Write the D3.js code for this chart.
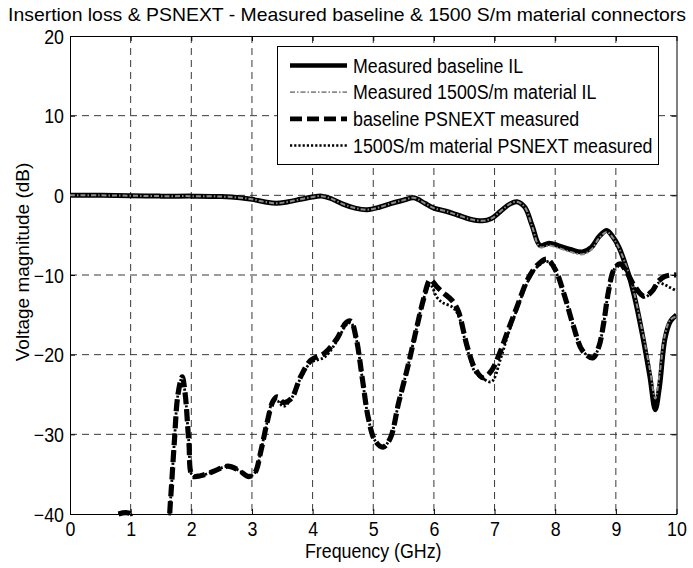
<!DOCTYPE html>
<meta charset="utf-8" />
<script src="https://d3js.org/d3.v7.min.js"></script>
<body style="margin:0;background:#fff">
<svg id="chart" width="693" height="568"></svg>
<script>
/* ── DATA ── */
const titleText = "Insertion loss & PSNEXT - Measured baseline & 1500 S/m material connectors";
const xTicks = [0,1,2,3,4,5,6,7,8,9,10];
const yTicks = [20,10,0,-10,-20,-30,-40];
const seriesNames = ["Measured baseline IL","Measured 1500S/m material IL",
                     "baseline PSNEXT measured","1500S/m material PSNEXT measured"];

const freqIL = [0,0.5,1,1.5,2,2.5,2.8,3.0,3.2,3.4,3.6,3.8,4.0,4.15,4.3,4.5,4.7,4.9,5.1,5.3,5.5,5.67,5.85,6.0,6.2,6.4,6.6,6.8,6.95,7.1,7.25,7.37,7.5,7.62,7.75,7.9,8.05,8.25,8.45,8.6,8.72,8.85,8.95,9.05,9.2,9.3,9.43,9.56,9.65,9.72,9.81,9.9,10];
const ilBaseline = [0,0,-0.05,-0.1,-0.1,-0.15,-0.3,-0.5,-0.8,-1.0,-0.8,-0.5,-0.2,-0.1,-0.4,-1.1,-1.6,-1.8,-1.5,-1.0,-0.6,-0.3,-1.0,-1.6,-2.0,-2.5,-3.0,-3.2,-2.9,-2.0,-1.1,-0.8,-1.5,-3.8,-6.3,-6.0,-6.3,-6.8,-7.1,-6.5,-5.2,-4.4,-5.2,-6.5,-9.7,-12.5,-17.2,-22.7,-26.9,-24,-18,-15.8,-15];
const il1500 = [0,0,-0.05,-0.1,-0.1,-0.15,-0.3,-0.5,-0.8,-1.0,-0.8,-0.5,-0.2,-0.1,-0.4,-1.1,-1.6,-1.8,-1.5,-1.0,-0.6,-0.3,-1.0,-1.6,-2.0,-2.5,-3.0,-3.2,-2.9,-2.0,-1.1,-0.8,-1.5,-3.9,-6.5,-6.3,-6.6,-7.1,-7.4,-6.8,-5.4,-4.6,-5.3,-6.6,-9.5,-12.2,-16.8,-21.8,-25.5,-22.5,-17.5,-15.6,-15.2];

const freqNext = [0.8,1.0,1.08,1.5,1.6,1.66,1.72,1.78,1.85,1.9,1.96,2.02,2.15,2.35,2.6,2.78,2.95,3.05,3.15,3.25,3.35,3.42,3.52,3.65,3.8,3.97,4.2,4.4,4.55,4.63,4.72,4.82,4.92,5.03,5.16,5.28,5.42,5.57,5.72,5.83,5.94,6.05,6.15,6.3,6.4,6.55,6.68,6.81,6.95,7.1,7.22,7.36,7.55,7.7,7.86,8.0,8.15,8.3,8.45,8.62,8.72,8.8,8.88,8.97,9.07,9.17,9.3,9.47,9.6,9.7,9.8,9.9,10];
const nextBaseline = [-40,-40,-48,-48,-44,-38,-31,-25,-22.8,-25,-31,-35.2,-35.2,-34.7,-34,-34.5,-35.3,-34.8,-32,-28.5,-25.8,-25.3,-26,-25.5,-22.8,-20.7,-19.8,-18,-16,-15.8,-18,-23,-28,-30.8,-31.6,-30.5,-26,-21.5,-16.5,-13,-10.6,-11.5,-12.2,-13.2,-14.5,-19,-21.8,-22.9,-22,-19.5,-17,-14.2,-10.5,-8.8,-8.0,-9.3,-12.5,-16.4,-19.5,-20.4,-19,-16,-12,-9.3,-8.6,-9.5,-11.3,-12.7,-12,-10.8,-10.2,-10,-10];
const next1500 = [-40,-40,-48,-48,-44,-38,-31,-25,-22.8,-25,-31,-35.2,-35.2,-34.7,-34,-34.5,-35.3,-34.8,-32,-28.5,-25.8,-25.8,-26.5,-25.5,-23,-21,-20.3,-18.3,-16.3,-16,-18,-23,-28,-30.8,-31.6,-30.5,-26,-21.5,-16.5,-13,-11.2,-12.8,-13.5,-14,-15,-19.3,-22.2,-23,-23.4,-20.5,-17.5,-14.5,-10.8,-9,-8.3,-9.5,-12.5,-16.4,-19.5,-20.4,-19,-16,-12,-9.3,-8.6,-9.5,-11.5,-12.8,-12,-11,-11.2,-11.6,-12];

/* ── LAYOUT ── */
const W = 693, H = 568;
const m = {left:70, right:W-676.5, top:36, bottom:H-514};
const font = "'Liberation Sans', Arial, sans-serif";
const squeezeX = 0.89;   // scanned text looks narrow

const svg = d3.select("#chart").style("font-family", font);
const x = d3.scaleLinear().domain([0,10]).range([m.left, W-m.right]);
const y = d3.scaleLinear().domain([-40,20]).range([H-m.bottom, m.top]);

// narrow horizontal text to mimic the reference
function squeeze(sel, f=squeezeX){
  sel.each(function(){
    const w = this.getComputedTextLength();
    if (w>0) d3.select(this).attr("textLength", w*f).attr("lengthAdjust","spacingAndGlyphs");
  });
}

svg.append("defs").append("clipPath").attr("id","plotclip")
  .append("rect").attr("x",x(0)).attr("y",y(20)).attr("width",x(10)-x(0)).attr("height",y(-40)-y(20)+3);

/* grid */
const grid = svg.append("g").attr("stroke","#222").attr("stroke-width",0.9).attr("stroke-dasharray","7,5");
grid.selectAll("line.v").data(xTicks.slice(1,-1)).join("line")
  .attr("x1",d=>x(d)).attr("x2",d=>x(d)).attr("y1",y(20)).attr("y2",y(-40));
grid.selectAll("line.h").data(yTicks.slice(1,-1)).join("line")
  .attr("x1",x(0)).attr("x2",x(10)).attr("y1",d=>y(d)).attr("y2",d=>y(d));

/* axes (inward ticks, MATLAB style) */
const axisStyle = g => { g.select(".domain").attr("stroke","#000");
  g.selectAll(".tick line").attr("stroke","#000");
  g.selectAll("text").attr("font-size",20).attr("fill","#000").attr("font-family",font); };

svg.append("g").attr("transform",`translate(0,${y(-40)})`)
  .call(d3.axisBottom(x).tickValues(xTicks).tickFormat(d3.format("d")).tickSizeInner(-5).tickSizeOuter(0).tickPadding(8))
  .call(axisStyle)
  .call(g=>squeeze(g.selectAll("text")));
svg.append("g").attr("transform",`translate(${x(0)},0)`)
  .call(d3.axisLeft(y).tickValues(yTicks).tickFormat(d3.format("d")).tickSizeInner(-5).tickSizeOuter(0).tickPadding(6))
  .call(axisStyle)
  .call(g=>g.selectAll("text").attr("dy","0.36em"))
  .call(g=>squeeze(g.selectAll("text")));
svg.append("g").attr("transform",`translate(0,${y(20)})`)
  .call(d3.axisTop(x).tickValues(xTicks).tickFormat("").tickSizeInner(-5).tickSizeOuter(0))
  .call(axisStyle);
svg.append("g").attr("transform",`translate(${x(10)},0)`)
  .call(d3.axisRight(y).tickValues(yTicks).tickFormat("").tickSizeInner(-5).tickSizeOuter(0))
  .call(axisStyle);

/* series */
const line = d3.line().x(d=>x(d[0])).y(d=>y(d[1])).curve(d3.curveCatmullRom.alpha(0.5));
const styles = [
  {stroke:"#000", width:5, dash:null},
  {stroke:"#8a8a8a", width:2, dash:"5,2,1.5,2"},
  {stroke:"#000", width:5.2, dash:"12,5"},
  {stroke:"#000", width:2.8, dash:"2.2,2"}
];
const series = [
  d3.zip(freqIL, ilBaseline),
  d3.zip(freqIL, il1500),
  d3.zip(freqNext, nextBaseline),
  d3.zip(freqNext, next1500)
];
const plot = svg.append("g").attr("clip-path","url(#plotclip)");
plot.selectAll("path").data(series).join("path")
  .attr("d", line).attr("fill","none")
  .attr("stroke",(d,i)=>styles[i].stroke)
  .attr("stroke-width",(d,i)=>styles[i].width)
  .attr("stroke-dasharray",(d,i)=>styles[i].dash)
  .attr("stroke-linejoin","round");

/* legend */
const lg = svg.append("g");
lg.append("rect").attr("x",277.5).attr("y",46.5).attr("width",381).attr("height",118)
  .attr("fill","#fff").attr("stroke","#000").attr("stroke-width",1);
const rowY = i => 65.5 + i*26.7;
seriesNames.forEach((name,i)=>{
  lg.append("line").attr("x1",290).attr("x2",347).attr("y1",rowY(i)).attr("y2",rowY(i))
    .attr("stroke",styles[i].stroke).attr("stroke-width",styles[i].width*0.9)
    .attr("stroke-dasharray",styles[i].dash);
  lg.append("text").attr("x",353).attr("y",rowY(i)).attr("dy","0.36em")
    .attr("font-size",20).text(name).call(squeeze);
});

/* titles */
svg.append("text").attr("x",347).attr("y",21).attr("text-anchor","middle")
  .attr("font-size",19).attr("textLength",678).attr("lengthAdjust","spacingAndGlyphs").text(titleText);
svg.append("text").attr("x",(x(0)+x(10))/2).attr("y",558).attr("text-anchor","middle")
  .attr("font-size",20).text("Frequency (GHz)").call(squeeze);
svg.append("text").attr("transform",`translate(22,262) rotate(-90)`)
  .attr("dy","0.36em").attr("text-anchor","middle").attr("font-size",19).text("Voltage magnitude (dB)");
</script>
</body>
